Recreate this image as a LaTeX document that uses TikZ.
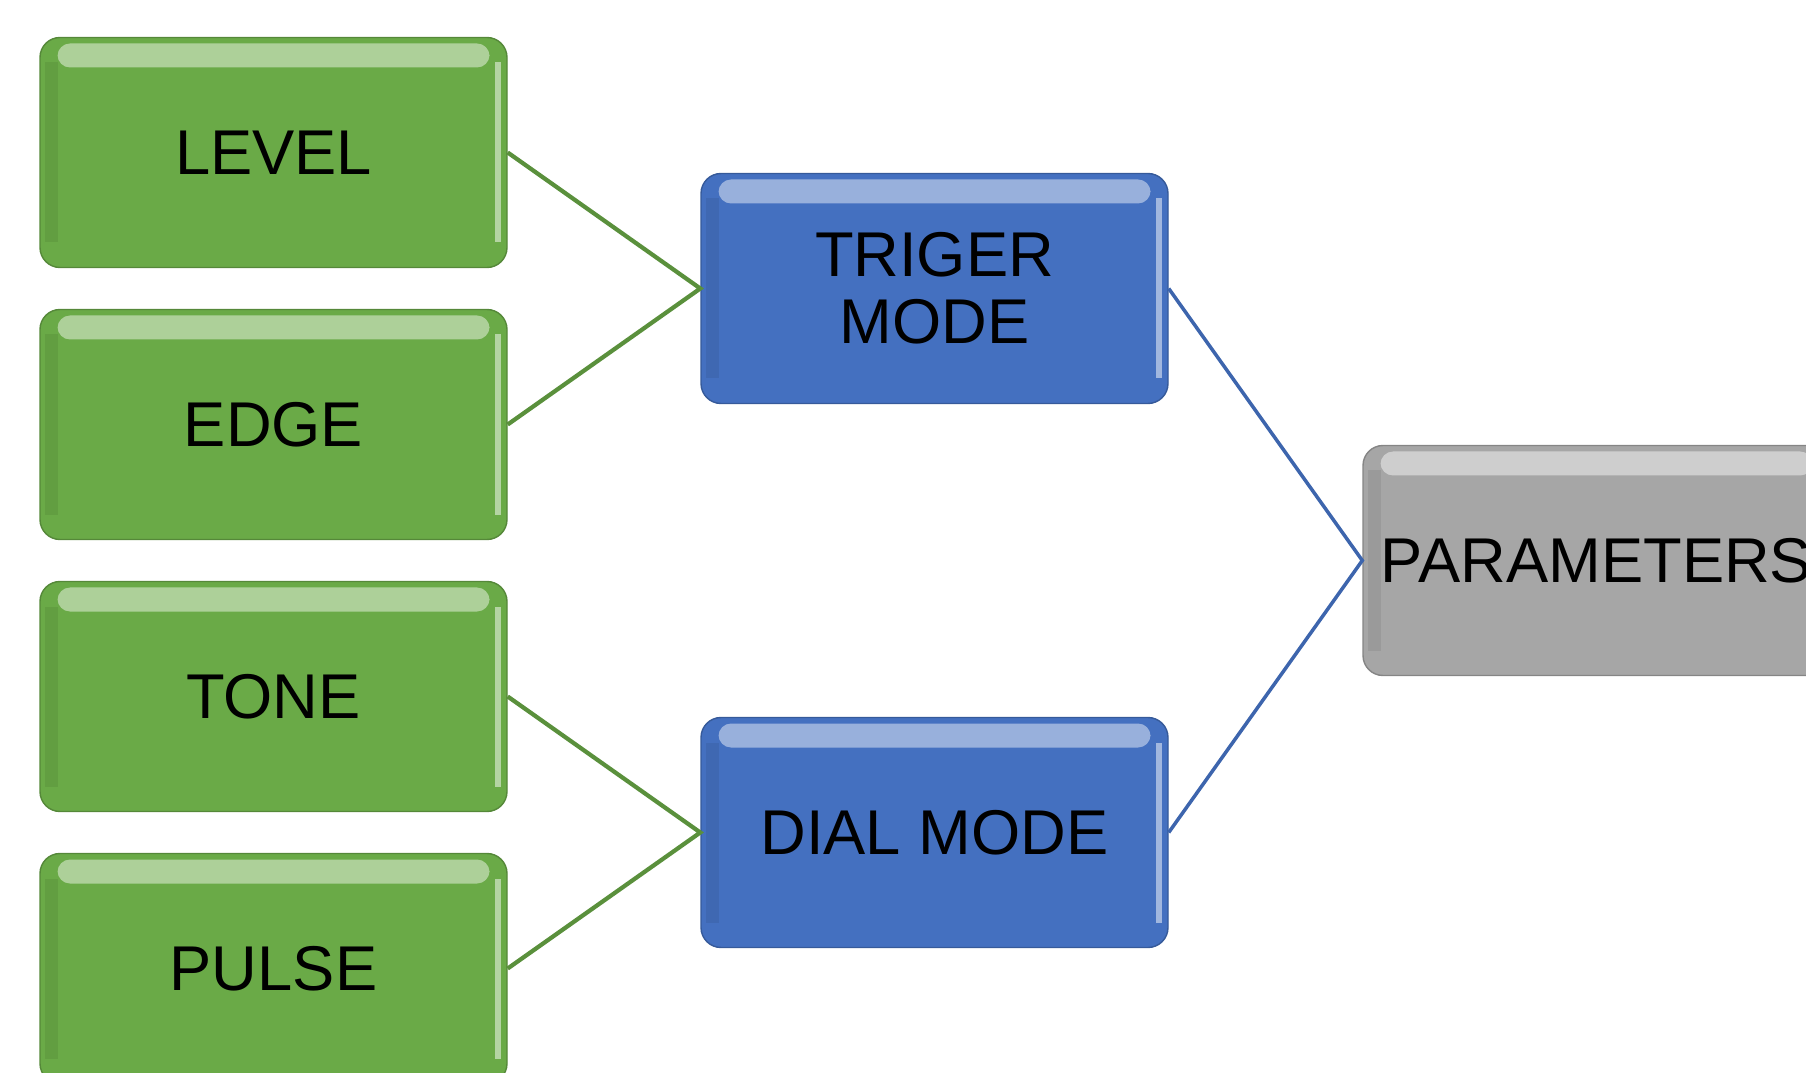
\documentclass[tikz,border=0pt]{standalone}
\usepackage{fontspec}
\setmainfont{Liberation Sans}
\usepackage{tikz}
\usetikzlibrary{calc}
\usepackage{xcolor}
\definecolor{leafgreen}{HTML}{6AAA47}
\definecolor{modeblue}{HTML}{4470C0}
\definecolor{paramgray}{HTML}{A6A6A6}

\tikzset{
  glossy/.style={rounded corners=0.4cm, minimum width=9.34cm, minimum height=4.6cm,
    inner sep=0pt, align=center, text=black, font=\fontsize{36}{38}\selectfont,
    fill=#1, draw=#1!80!black, line width=0.8pt,
    path picture={
      \fill[white, opacity=0.45, rounded corners=0.25cm]
        ($(path picture bounding box.north west)+(0.35,-0.12)$) rectangle
        ($(path picture bounding box.north east)+(-0.35,-0.6)$);
      \fill[white, opacity=0.5, sharp corners]
        ($(path picture bounding box.north east)+(-0.25,-0.5)$) rectangle
        ($(path picture bounding box.south east)+(-0.12,0.5)$);
      \fill[black, opacity=0.07, sharp corners]
        ($(path picture bounding box.north west)+(0.1,-0.5)$) rectangle
        ($(path picture bounding box.south west)+(0.35,0.5)$);
    }},
  leaf/.style={glossy=leafgreen},
  mode/.style={glossy=modeblue},
  param/.style={glossy=paramgray},
  leafline/.style={draw=leafgreen!85!black, line width=2.4pt},
  modeline/.style={draw=modeblue!90!black, line width=2pt}
}

\begin{document}
\begin{tikzpicture}
  \useasboundingbox (0,0) rectangle (36.12,-21.46);
  \clip (0,0) rectangle (36.12,-21.46);
  % left column
  \foreach \name/\txt/\y in {level/LEVEL/-3.05, edge/EDGE/-8.49, tone/TONE/-13.93, pulse/PULSE/-19.37}{
    \node[leaf] (\name) at (5.47,\y) {\txt};
  }
  % middle and right
  \node[mode] (trig) at (18.69,-5.77) {TRIGER\\MODE};
  \node[mode] (dial) at (18.69,-16.65) {DIAL MODE};
  \node[param] (params) at (31.93,-11.21) {PARAMETERS};
  % connectors
  \draw[leafline] (level.east) -- (trig.west) -- (edge.east);
  \draw[leafline] (tone.east) -- (dial.west) -- (pulse.east);
  \draw[modeline] (trig.east) -- (params.west) -- (dial.east);
\end{tikzpicture}
\end{document}
